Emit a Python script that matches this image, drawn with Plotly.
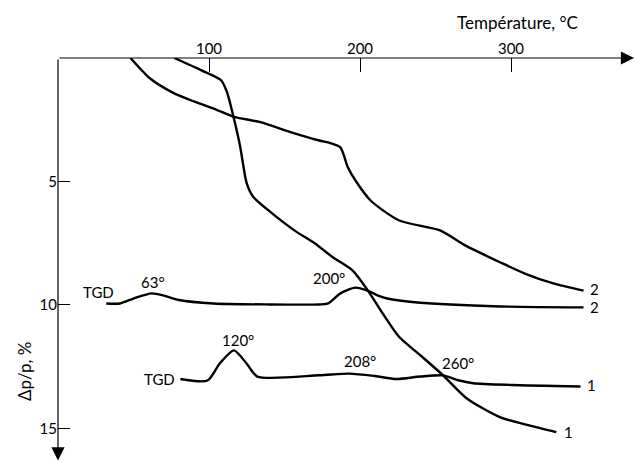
import plotly.graph_objects as go

# ---- data (temperature in °C, mass loss Δp/p in %) ----
tg1_t = [77, 95, 108, 112, 116, 120.5, 125, 129, 140, 157, 170, 182, 195, 205, 215, 226, 240, 255, 271, 293, 312, 330]
tg1_p = [0, 0.5, 0.9, 1.4, 2.33, 3.54, 5.08, 5.6, 6.2, 7.0, 7.5, 8.07, 8.6, 9.4, 10.34, 11.3, 12.04, 12.85, 13.8, 14.55, 14.88, 15.15]

tg2_t = [48, 61, 76, 90, 105, 116, 134, 155, 173, 181, 187, 192, 197, 207, 226, 253, 270, 293, 310, 328, 348]
tg2_p = [0, 0.83, 1.4, 1.76, 2.1, 2.37, 2.6, 3.02, 3.34, 3.46, 3.62, 4.43, 4.96, 5.77, 6.58, 6.98, 7.6, 8.28, 8.75, 9.13, 9.42]

tgd2_t = [32, 41, 50, 62, 70, 80, 103, 140, 173, 179, 187, 197, 205, 212, 218, 238, 293, 348]
tgd2_p = [9.94, 9.94, 9.74, 9.53, 9.62, 9.8, 9.94, 9.98, 9.98, 9.94, 9.53, 9.3, 9.42, 9.62, 9.74, 9.9, 10.06, 10.1]

tgd1_t = [81, 99, 107, 116.5, 125, 132, 173, 193, 210, 224, 240, 255, 265, 275, 300, 346]
tgd1_p = [13.0, 13.06, 12.38, 11.84, 12.38, 12.9, 12.85, 12.78, 12.88, 13.0, 12.9, 12.85, 13.05, 13.17, 13.24, 13.3]

x_ticks = [100, 200, 300]
y_ticks = [5, 10, 15]

# text labels: (text, T, p)
labels = [
    ("TGD", 27, 9.49), ("63°", 63, 9.09), ("200°", 179.5, 8.89),
    ("TGD", 67, 13.0), ("120°", 119, 11.4), ("208°", 200, 12.29), ("260°", 265, 12.37),
    ("2", 355, 9.37), ("2", 355, 10.1), ("1", 353, 13.26), ("1", 338, 15.16),
]

FONT = "Lato"
fig = go.Figure()
for tx, py in [(tg1_t, tg1_p), (tg2_t, tg2_p), (tgd2_t, tgd2_p), (tgd1_t, tgd1_p)]:
    fig.add_trace(go.Scatter(x=tx, y=py, mode="lines",
                             line=dict(color="black", width=2.4, shape="spline", smoothing=0.7),
                             showlegend=False, hoverinfo="skip"))

for txt, tx, py in labels:
    fig.add_annotation(x=tx, y=py, text=txt, showarrow=False, xref="x", yref="y",
                       xanchor="center", yanchor="middle",
                       font=dict(family=FONT, size=15, color="black"))

# axis arrows
fig.add_annotation(x=381.5, y=0, ax=0, ay=0, xref="x", yref="y", axref="x", ayref="y",
                   text="", showarrow=True, arrowhead=2, arrowsize=2.2, arrowwidth=1.2,
                   arrowcolor="black", standoff=0)
fig.add_annotation(x=0, y=16.3, ax=0, ay=0, xref="x", yref="y", axref="x", ayref="y",
                   text="", showarrow=True, arrowhead=2, arrowsize=2.2, arrowwidth=1.2,
                   arrowcolor="black", standoff=0)

# axis titles (paper coordinates)
fig.add_annotation(x=0.797, y=1.089, xref="paper", yref="paper", text="Température, °C",
                   xanchor="center", yanchor="middle",
                   showarrow=False, font=dict(family=FONT, size=17, color="black"))
fig.add_annotation(x=-0.057, y=0.223, xref="paper", yref="paper", text="Δp/p, %",
                   xanchor="center", yanchor="middle",
                   showarrow=False, textangle=-90, font=dict(family=FONT, size=17, color="black"))

fig.update_layout(
    width=635, height=462,
    margin=dict(l=58, r=0, t=58, b=0, autoexpand=False),
    paper_bgcolor="white", plot_bgcolor="white",
    font=dict(family=FONT, size=15, color="black"),
    xaxis=dict(range=[0, 382.1], side="top", tickvals=x_ticks, ticks="inside", ticklen=14,
               tickwidth=1.2, tickcolor="black", showgrid=False, zeroline=False, showline=False),
    yaxis=dict(range=[16.36, 0], tickvals=y_ticks, ticks="inside", ticklen=12,
               tickwidth=1.2, tickcolor="black", showgrid=False, zeroline=False, showline=False),
)

# remove the browser's default body margin so the figure fills the window exactly
fig.write_html("out.html", config={"displayModeBar": False},
               post_script="document.body.style.margin='0';document.body.style.overflow='hidden';")
